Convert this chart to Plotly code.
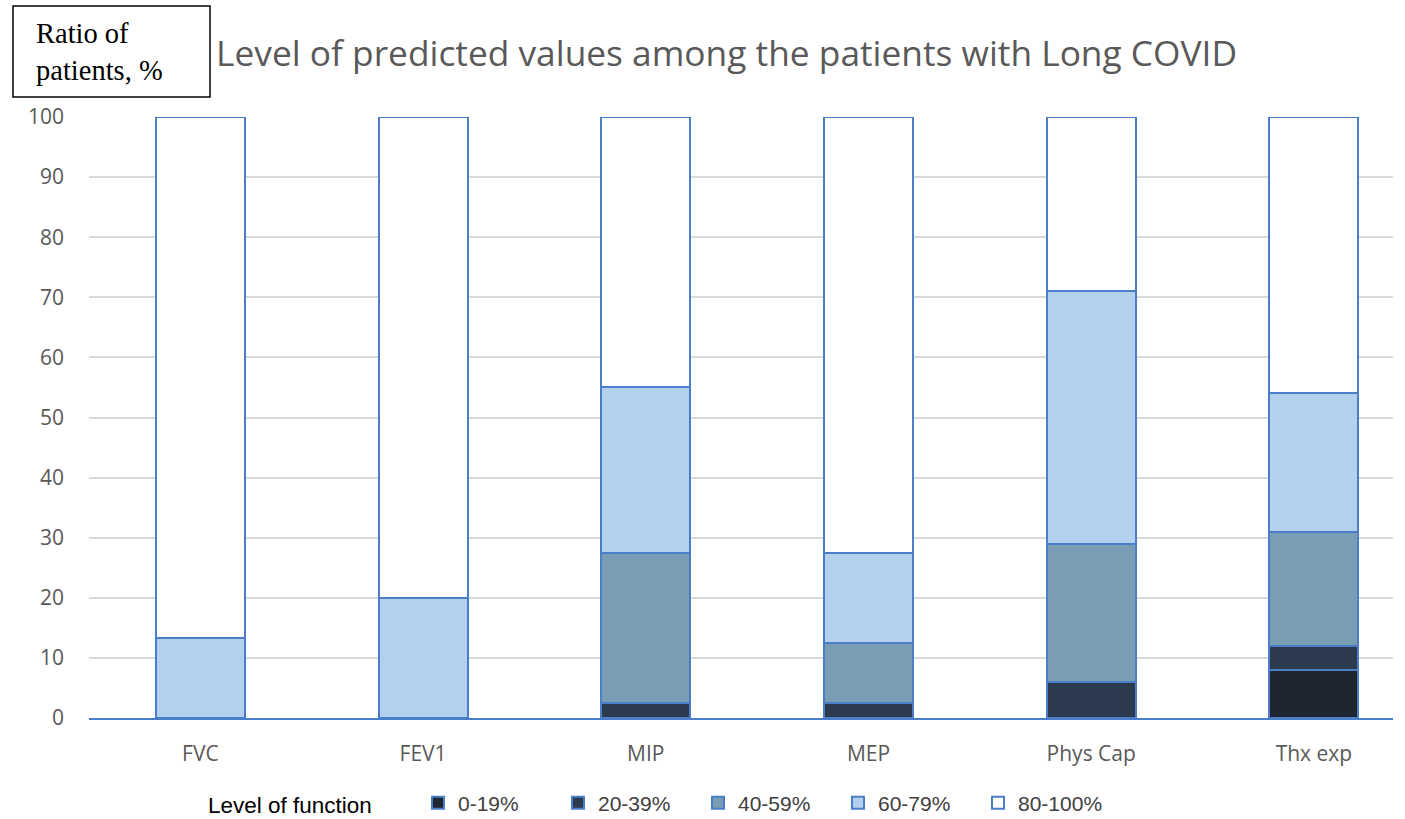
import plotly.graph_objects as go

categories = ["FVC", "FEV1", "MIP", "MEP", "Phys Cap", "Thx exp"]
levels = ["0-19%", "20-39%", "40-59%", "60-79%", "80-100%"]
v_0_19 = [0, 0, 0, 0, 0, 8]
v_20_39 = [0, 0, 2.5, 2.5, 6, 4]
v_40_59 = [0, 0, 25, 10, 23, 19]
v_60_79 = [13.3, 20, 27.5, 15, 42, 23]
v_80_100 = [86.7, 80, 45, 72.5, 29, 46]
series = [v_0_19, v_20_39, v_40_59, v_60_79, v_80_100]
colors = ["#20262f", "#2b3a4c", "#789db4", "#b3d0ec", "#ffffff"]
outline = "#4a7ec8"

# plot area in page pixels: x 89..1393, y 117..718
PL, PR, PT, PB = 89, 1393, 117, 718
PW, PH = PR - PL, PB - PT


def px(x):
    return (x - PL) / PW


def py(y):
    return (PB - y) / PH


fig = go.Figure()
for name, vals, col in zip(levels, series, colors):
    fig.add_trace(go.Bar(
        x=categories, y=vals, name=name, width=0.4,
        marker=dict(color=col, line=dict(color=outline, width=2)),
    ))

W, H = 1405, 819
fig.update_layout(
    barmode="stack",
    width=W, height=H,
    margin=dict(l=PL, r=W - PR, t=PT, b=H - PB, autoexpand=False),
    paper_bgcolor="white", plot_bgcolor="white",
    showlegend=True,
    legend=dict(
        orientation="h", x=px(418), xanchor="left", y=py(803), yanchor="middle",
        font=dict(family="Liberation Sans Narrow, Arial Narrow, Liberation Sans, sans-serif", size=21, color="#404040"),
        entrywidth=95, entrywidthmode="pixels", itemwidth=30, traceorder="normal",
    ),
    xaxis=dict(
        range=[-0.5, 5.355], showline=True, linecolor=outline, linewidth=2,
        ticks="", ticklabelstandoff=16, automargin=False,
        tickfont=dict(family="Open Sans, sans-serif", size=21, color="#595959"),
        showgrid=False,
    ),
    yaxis=dict(
        range=[0, 100], dtick=10, showgrid=True, gridcolor="#d9d9d9", gridwidth=1.5,
        zeroline=False, showline=False, ticks="", ticklabelstandoff=24, automargin=False,
        tickfont=dict(family="Open Sans, sans-serif", size=21, color="#595959"),
    ),
    font=dict(family="Open Sans, sans-serif", color="#595959"),
)

fig.add_annotation(
    text="Level of predicted values among the patients with Long COVID",
    xref="paper", yref="paper", x=px(214), y=py(52),
    xanchor="left", yanchor="middle", showarrow=False,
    font=dict(family="Open Sans, sans-serif", size=35.3, color="#595959"),
)
fig.add_shape(
    type="rect", xref="paper", yref="paper",
    x0=px(13), x1=px(210), y0=py(97), y1=py(6),
    line=dict(color="#000000", width=1.5), fillcolor="white", layer="above",
)
fig.add_annotation(
    text="Ratio of<br>patients, %",
    xref="paper", yref="paper", x=px(34), y=py(52),
    xanchor="left", yanchor="middle", showarrow=False, align="left",
    font=dict(family="Liberation Serif, Times New Roman, serif", size=28.5, color="#000000"),
)
fig.add_annotation(
    text="Level of function",
    xref="paper", yref="paper", x=px(206), y=py(805),
    xanchor="left", yanchor="middle", showarrow=False,
    font=dict(family="Liberation Sans Narrow, Arial Narrow, Liberation Sans, sans-serif", size=22.5, color="#000000"),
)

fig.write_html(
    "out.html",
    config={"displayModeBar": False},
    post_script="document.body.style.margin='0px';document.body.style.overflow='hidden';",
)
